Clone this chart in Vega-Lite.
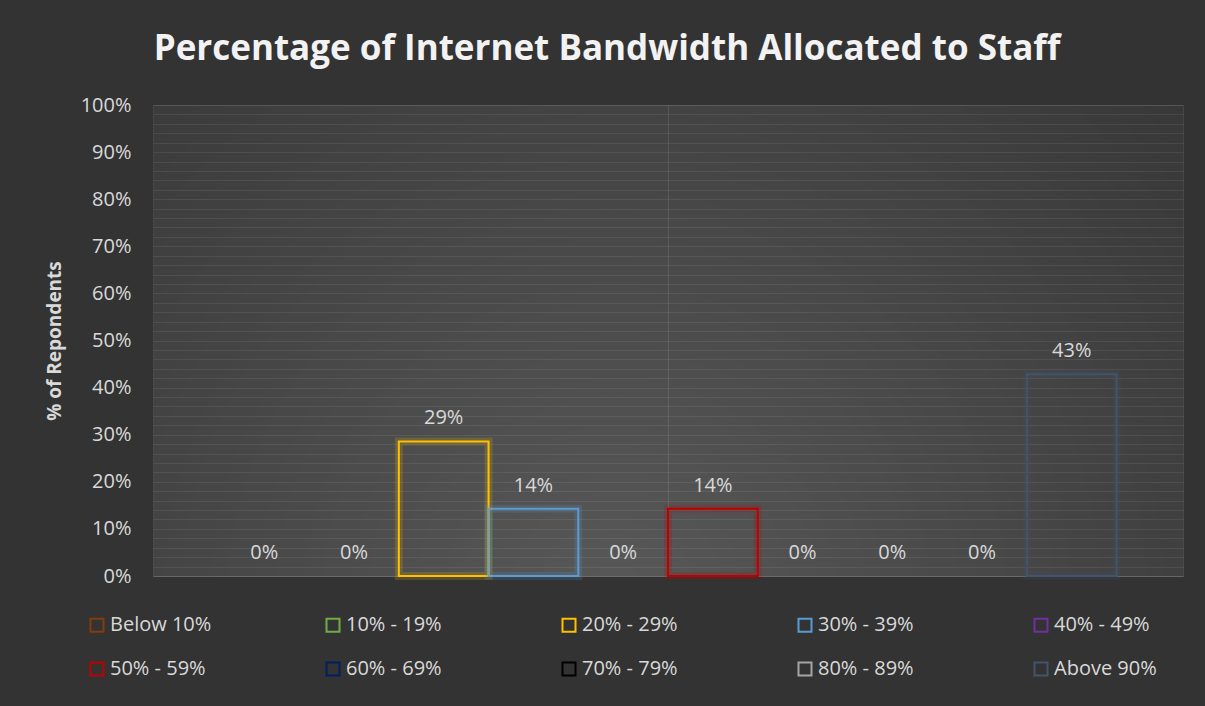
{
  "$schema": "https://vega.github.io/schema/vega-lite/v6.json",
  "autosize": {"type": "none"},
  "width": 1030,
  "height": 471,
  "padding": {"left": 153, "top": 105, "right": 22, "bottom": 130},
  "background": "#333333",
  "view": {
    "stroke": "#ffffff",
    "strokeOpacity": 0.08,
    "fill": {
      "gradient": "radial",
      "x1": 0.45, "y1": 0.75, "r1": 0,
      "x2": 0.45, "y2": 0.75, "r2": 0.75,
      "stops": [
        {"offset": 0, "color": "#585858"},
        {"offset": 1, "color": "#373737"}
      ]
    }
  },
  "title": {
    "text": "Percentage of Internet Bandwidth Allocated to Staff",
    "font": "Open Sans",
    "fontWeight": "bold",
    "fontSize": 35,
    "color": "#f2f2f2",
    "anchor": "middle",
    "dx": -61,
    "baseline": "alphabetic",
    "offset": 0
  },
  "data": {
    "values": [
      {"series": "Below 10%", "value": 0},
      {"series": "10% - 19%", "value": 0},
      {"series": "20% - 29%", "value": 0.2857},
      {"series": "30% - 39%", "value": 0.1429},
      {"series": "40% - 49%", "value": 0},
      {"series": "50% - 59%", "value": 0.1429},
      {"series": "60% - 69%", "value": 0},
      {"series": "70% - 79%", "value": 0},
      {"series": "80% - 89%", "value": 0},
      {"series": "Above 90%", "value": 0.4286}
    ]
  },
  "encoding": {
    "x": {
      "field": "series",
      "type": "nominal",
      "sort": null,
      "scale": {
        "domain": ["Below 10%", "10% - 19%", "20% - 29%", "30% - 39%", "40% - 49%", "50% - 59%", "60% - 69%", "70% - 79%", "80% - 89%", "Above 90%"],
        "paddingInner": 0,
        "paddingOuter": 0.74
      },
      "axis": {
        "title": null,
        "labels": false,
        "ticks": false,
        "domain": true,
        "domainColor": "#ffffff",
        "domainOpacity": 0.1,
        "grid": true,
        "gridColor": "#ffffff",
        "gridOpacity": 0.1,
        "values": ["50% - 59%"],
        "bandPosition": 0
      }
    },
    "y": {
      "field": "value",
      "type": "quantitative",
      "scale": {"domain": [0, 1], "nice": false},
      "axis": {
        "title": "% of Repondents",
        "titleFont": "Open Sans",
        "titleFontWeight": "bold",
        "titleFontSize": 19,
        "titleColor": "#d9d9d9",
        "titlePadding": 16,
        "values": [0, 0.02, 0.04, 0.06, 0.08, 0.1, 0.12, 0.14, 0.16, 0.18, 0.2, 0.22, 0.24, 0.26, 0.28, 0.3, 0.32, 0.34, 0.36, 0.38, 0.4, 0.42, 0.44, 0.46, 0.48, 0.5, 0.52, 0.54, 0.56, 0.58, 0.6, 0.62, 0.64, 0.66, 0.68, 0.7, 0.72, 0.74, 0.76, 0.78, 0.8, 0.82, 0.84, 0.86, 0.88, 0.9, 0.92, 0.94, 0.96, 0.98, 1],
        "labelExpr": "abs(round(datum.value * 100) % 10) < 0.5 ? format(datum.value, '.0%') : ''",
        "labelFont": "Open Sans",
        "labelFontSize": 20,
        "labelColor": "#d9d9d9",
        "labelPadding": 22,
        "ticks": false,
        "domain": false,
        "grid": true,
        "gridColor": "#ffffff",
        "gridOpacity": 0.08
      }
    },
    "color": {
      "field": "series",
      "type": "nominal",
      "sort": null,
      "scale": {
        "domain": ["Below 10%", "10% - 19%", "20% - 29%", "30% - 39%", "40% - 49%", "50% - 59%", "60% - 69%", "70% - 79%", "80% - 89%", "Above 90%"],
        "range": ["#843c0c", "#70ad47", "#ffc000", "#5b9bd5", "#7030a0", "#c00000", "#002060", "#000000", "#a5a5a5", "#44546a"]
      },
      "legend": {
        "title": null,
        "orient": "none",
        "legendX": -66,
        "legendY": 510,
        "direction": "horizontal",
        "columns": 5,
        "gridAlign": "all",
        "columnPadding": 109,
        "rowPadding": 22,
        "symbolType": "square",
        "symbolSize": 169,
        "symbolStrokeWidth": 2,
        "symbolFillColor": "transparent",
        "labelFont": "Open Sans",
        "labelFontSize": 20,
        "labelColor": "#d9d9d9",
        "labelOffset": 3,
        "labelLimit": 200
      }
    }
  },
  "layer": [
    {
      "transform": [{"filter": "datum.value > 0"}],
      "mark": {"type": "bar", "filled": false, "strokeWidth": 2}
    },
    {
      "transform": [{"filter": "datum.value > 0"}],
      "mark": {"type": "bar", "filled": false, "strokeWidth": 8, "strokeOpacity": 0.18}
    },
    {
      "mark": {
        "type": "text",
        "baseline": "alphabetic",
        "dy": -17,
        "font": "Open Sans",
        "fontSize": 20,
        "color": "#d9d9d9"
      },
      "encoding": {
        "text": {"field": "value", "type": "quantitative", "format": ".0%"},
        "color": {"value": "#d9d9d9"}
      }
    }
  ]
}
